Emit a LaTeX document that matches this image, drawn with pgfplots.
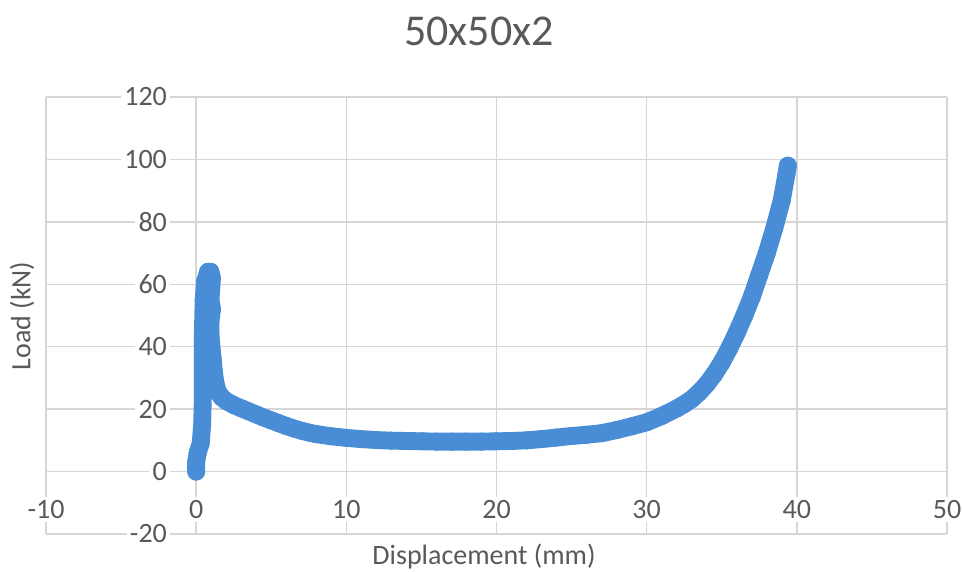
\documentclass[border=0pt]{standalone}
\usepackage{pgfplots}
\pgfplotsset{compat=1.18}
\usepackage{fontspec}
\setmainfont{Carlito}
\definecolor{serieblue}{RGB}{74,141,215}
\definecolor{labelgray}{RGB}{89,89,89}
\definecolor{gridgray}{RGB}{214,214,214}

\pgfplotstableread{
x y
0 0
0 3
0.1 6
0.3 9
0.4 15
0.45 25
0.45 35
0.45 45
0.5 55
0.6 61
0.8 64
0.95 64
1.05 62
1.0 58
0.95 55
1.05 52
0.95 48
0.95 44
1.0 41
1.1 36
1.2 31
1.3 28
1.45 25.5
1.7 23.8
2 22.6
2.5 21.3
3 20.3
3.5 19.3
4 18.3
4.5 17.3
5 16.4
5.5 15.5
6 14.6
6.5 13.8
7 13.1
7.5 12.5
8 12
9 11.3
10 10.8
11 10.4
12 10.1
13 9.9
14 9.8
15 9.7
16 9.6
17 9.6
18 9.6
19 9.6
20 9.7
21 9.8
22 10
23 10.4
24 10.9
25 11.4
26 11.8
27 12.3
28 13.3
29 14.5
30 15.8
31 17.8
32 20.2
32.5 21.6
33 23.2
33.5 25.4
34 28
34.5 31.2
35 35
35.5 39.5
36 44.5
36.5 50
37 56
37.5 63
38 70
38.5 78
39 87
39.3 95
39.4 98
}\loaddata

\begin{document}
\begin{tikzpicture}
\useasboundingbox (0,0) rectangle (721.5pt,428.25pt);
\begin{axis}[
  at={(34.5pt,27.75pt)}, anchor=south west,
  scale only axis, width=675.75pt, height=327.75pt,
  xmin=-10, xmax=50, ymin=-20, ymax=120,
  xtick={-10,0,...,50}, ytick={-20,0,...,120},
  axis lines=middle,
  axis line style={draw=none},
  hide obscured x ticks=false, hide obscured y ticks=false,
  major tick length=0pt,
  grid=major,
  major grid style={draw=gridgray, line width=1.1pt},
  /pgf/number format/assume math mode=true,
  tick label style={font=\fontsize{21pt}{24pt}\selectfont, text=labelgray, fill=white, inner sep=2.5pt},
  xticklabel style={anchor=north, yshift=-18.5pt},
  yticklabel style={anchor=east, xshift=-19.25pt},
  clip=false,
]
\addplot[color=serieblue, line width=13.4pt, line join=round, line cap=round,
  mark=*, mark size=6.6pt, mark options={fill=serieblue, draw=serieblue, line width=0.2pt}] table {\loaddata};
\end{axis}
\node[text=labelgray, font=\fontsize{33pt}{36pt}\selectfont] at (359.25pt,404.6pt) {50x50x2};
\node[text=labelgray, font=\fontsize{21pt}{24pt}\selectfont, anchor=base] at (363pt,5pt) {Displacement (mm)};
\node[text=labelgray, font=\fontsize{21pt}{24pt}\selectfont, rotate=90] at (16.5pt,191.25pt) {Load (kN)};
\end{tikzpicture}
\end{document}
